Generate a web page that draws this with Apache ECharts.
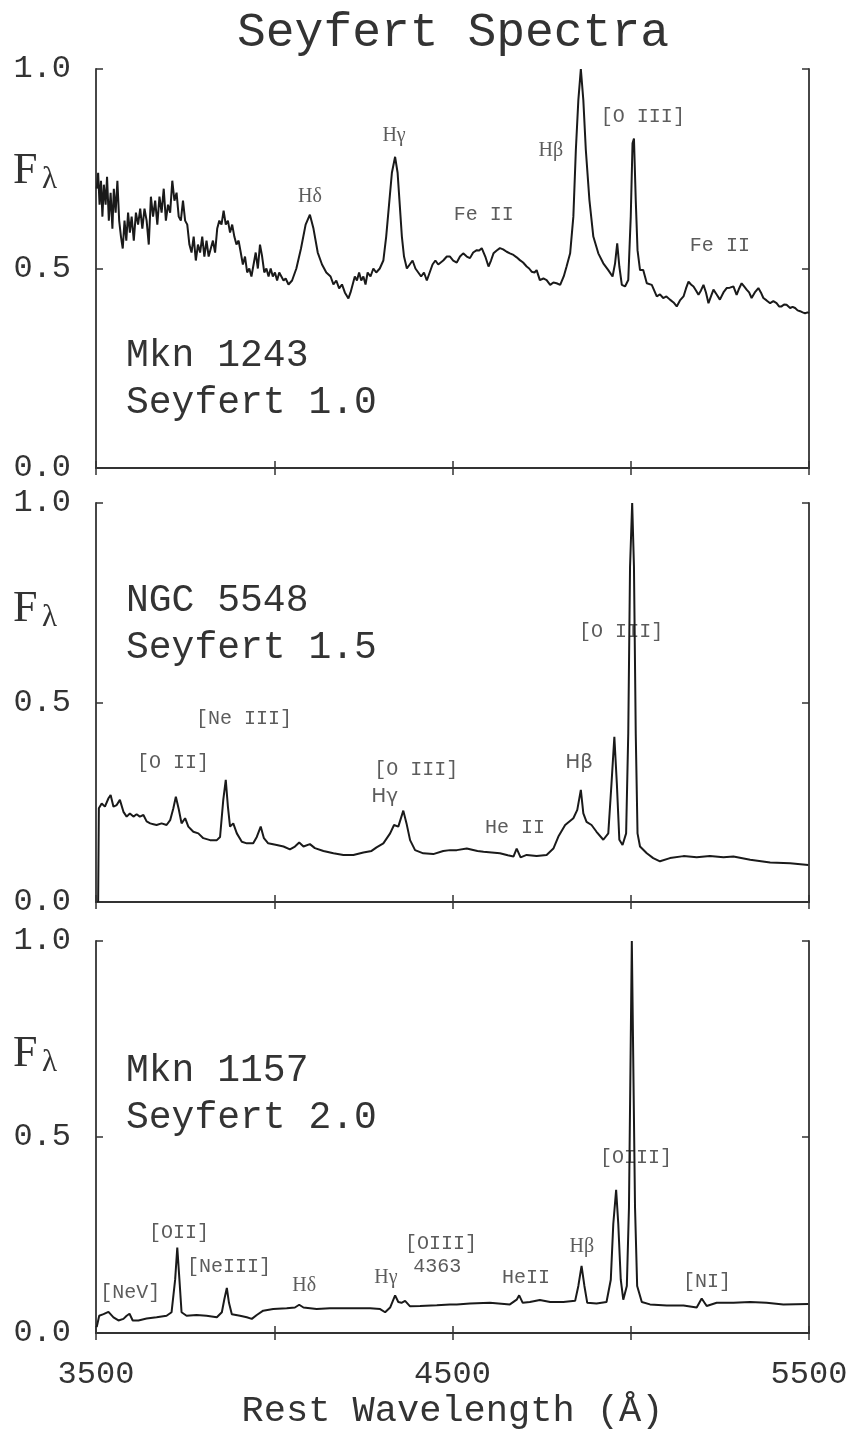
<!DOCTYPE html>
<html>
<head>
<meta charset="utf-8">
<title>Seyfert Spectra</title>
<script src="https://cdn.jsdelivr.net/npm/echarts@6/dist/echarts.min.js"></script>
<style>
  html, body { margin: 0; padding: 0; background: #fff; }
  #chart { width: 851px; height: 1431px; }
</style>
</head>
<body>
<div id="chart"></div>
<script>
// Mkn 1243, Seyfert 1.0 (normalised to H-beta)
const wave1 = [3502, 3506, 3510, 3514, 3518, 3522, 3527, 3531, 3536, 3541, 3546, 3550, 3555, 3560, 3565, 3570, 3575, 3580, 3585, 3590,
  3595, 3600, 3606, 3612, 3618, 3624, 3630, 3636, 3642, 3648, 3654, 3660, 3666, 3672, 3678, 3684, 3690, 3696, 3702, 3708,
  3714, 3720, 3726, 3732, 3738, 3744, 3750, 3756, 3762, 3768, 3774, 3780, 3786, 3792, 3798, 3804, 3810, 3816, 3822, 3828,
  3834, 3840, 3846, 3852, 3858, 3864, 3870, 3876, 3882, 3888, 3894, 3900, 3906, 3912, 3918, 3924, 3930, 3936, 3942, 3948,
  3954, 3960, 3966, 3972, 3978, 3984, 3990, 3996, 4002, 4008, 4014, 4020, 4026, 4032, 4040, 4050, 4062, 4075, 4088, 4100,
  4110, 4122, 4134, 4146, 4158, 4166, 4174, 4182, 4190, 4198, 4208, 4214, 4220, 4226, 4232, 4238, 4244, 4250, 4256, 4262,
  4270, 4278, 4286, 4296, 4306, 4314, 4322, 4330, 4339, 4346, 4352, 4358, 4364, 4372, 4380, 4388, 4396, 4404, 4412, 4420,
  4428, 4436, 4444, 4452, 4460, 4474, 4484, 4493, 4502, 4512, 4521, 4530, 4540, 4549, 4558, 4568, 4575, 4582, 4592, 4601,
  4608, 4615, 4624, 4633, 4642, 4652, 4661, 4671, 4680, 4689, 4698, 4708, 4715, 4722, 4730, 4736, 4745, 4755, 4764, 4774,
  4783, 4792, 4802, 4812, 4820, 4830, 4839, 4846, 4853, 4860, 4867, 4874, 4884, 4895, 4909, 4923, 4937, 4949, 4956, 4962,
  4968, 4975, 4984, 4993, 5000, 5005, 5009, 5014, 5019, 5026, 5035, 5045, 5059, 5073, 5082, 5091, 5100, 5110, 5120, 5129,
  5138, 5148, 5155, 5162, 5169, 5176, 5183, 5190, 5197, 5204, 5211, 5218, 5225, 5232, 5241, 5250, 5260, 5269, 5278, 5288,
  5297, 5304, 5311, 5318, 5325, 5332, 5339, 5348, 5358, 5365, 5372, 5381, 5391, 5400, 5409, 5416, 5423, 5430, 5437, 5447,
  5454, 5461, 5468, 5475, 5482, 5489, 5496, 5500]
const flux1 = [0.70, 0.74, 0.66, 0.72, 0.63, 0.71, 0.66, 0.73, 0.62, 0.69, 0.60, 0.70, 0.64, 0.72, 0.62, 0.58, 0.55, 0.62, 0.57, 0.64,
  0.59, 0.63, 0.57, 0.64, 0.61, 0.65, 0.60, 0.65, 0.62, 0.56, 0.68, 0.63, 0.67, 0.61, 0.68, 0.64, 0.70, 0.62, 0.66, 0.64,
  0.72, 0.67, 0.69, 0.63, 0.62, 0.67, 0.62, 0.61, 0.56, 0.54, 0.58, 0.52, 0.56, 0.54, 0.58, 0.53, 0.57, 0.53, 0.55, 0.57,
  0.54, 0.60, 0.62, 0.61, 0.645, 0.61, 0.62, 0.59, 0.61, 0.58, 0.56, 0.57, 0.54, 0.51, 0.53, 0.49, 0.50, 0.48, 0.51, 0.54,
  0.50, 0.56, 0.53, 0.49, 0.50, 0.48, 0.50, 0.48, 0.49, 0.47, 0.49, 0.48, 0.47, 0.475, 0.46, 0.47, 0.50, 0.55, 0.61, 0.635,
  0.60, 0.54, 0.51, 0.49, 0.48, 0.46, 0.47, 0.45, 0.46, 0.44, 0.425, 0.44, 0.46, 0.48, 0.47, 0.49, 0.47, 0.48, 0.46, 0.49,
  0.48, 0.50, 0.49, 0.50, 0.52, 0.58, 0.66, 0.74, 0.78, 0.74, 0.66, 0.58, 0.53, 0.50, 0.51, 0.52, 0.50, 0.49, 0.48, 0.49,
  0.47, 0.49, 0.51, 0.52, 0.51, 0.52, 0.53, 0.53, 0.52, 0.515, 0.53, 0.538, 0.53, 0.526, 0.54, 0.546, 0.545, 0.551, 0.53, 0.505,
  0.52, 0.538, 0.545, 0.551, 0.548, 0.542, 0.538, 0.534, 0.528, 0.521, 0.515, 0.505, 0.50, 0.492, 0.49, 0.496, 0.471, 0.475, 0.471, 0.459,
  0.465, 0.463, 0.459, 0.48, 0.505, 0.538, 0.63, 0.797, 0.922, 1.0, 0.922, 0.797, 0.672, 0.58, 0.538, 0.513, 0.496, 0.48, 0.513, 0.563,
  0.505, 0.459, 0.455, 0.471, 0.63, 0.814, 0.826, 0.672, 0.546, 0.496, 0.496, 0.463, 0.459, 0.43, 0.435, 0.426, 0.43, 0.422, 0.415, 0.405,
  0.42, 0.43, 0.45, 0.467, 0.46, 0.455, 0.445, 0.434, 0.445, 0.459, 0.44, 0.413, 0.43, 0.447, 0.435, 0.422, 0.44, 0.451, 0.452, 0.455,
  0.434, 0.45, 0.463, 0.455, 0.447, 0.44, 0.426, 0.44, 0.451, 0.44, 0.426, 0.42, 0.413, 0.418, 0.413, 0.405, 0.405, 0.41, 0.409, 0.401,
  0.404, 0.401, 0.395, 0.393, 0.39, 0.388, 0.39, 0.388]

// NGC 5548, Seyfert 1.5 (normalised to [O III] 5007)
const wave2 = [3506, 3508, 3516, 3525, 3535, 3541, 3549, 3558, 3567, 3577, 3586, 3595, 3605, 3614, 3623, 3633, 3642, 3652, 3661, 3670,
  3684, 3698, 3708, 3717, 3724, 3732, 3740, 3750, 3759, 3773, 3787, 3801, 3820, 3839, 3848, 3857, 3864, 3870, 3876, 3885,
  3895, 3909, 3923, 3941, 3951, 3962, 3971, 3983, 4007, 4026, 4044, 4058, 4070, 4082, 4100, 4114, 4138, 4166, 4194, 4222,
  4250, 4273, 4287, 4306, 4325, 4336, 4348, 4362, 4371, 4381, 4395, 4418, 4446, 4474, 4493, 4512, 4540, 4570, 4587, 4610,
  4633, 4655, 4671, 4680, 4691, 4708, 4736, 4764, 4783, 4797, 4816, 4839, 4850, 4860, 4867, 4876, 4890, 4904, 4923, 4937,
  4946, 4954, 4961, 4968, 4977, 4987, 4993, 4998, 5004, 5009, 5014, 5019, 5026, 5045, 5063, 5082, 5110, 5148, 5185, 5222,
  5260, 5288, 5335, 5391, 5447, 5498]
const flux2 = [0.0, 0.235, 0.247, 0.239, 0.260, 0.268, 0.239, 0.243, 0.256, 0.226, 0.214, 0.222, 0.214, 0.220, 0.214, 0.218, 0.202, 0.197, 0.195, 0.193,
  0.197, 0.193, 0.205, 0.235, 0.264, 0.233, 0.197, 0.210, 0.189, 0.176, 0.172, 0.160, 0.155, 0.155, 0.163, 0.256, 0.306, 0.239, 0.189, 0.197,
  0.172, 0.151, 0.147, 0.147, 0.163, 0.189, 0.160, 0.147, 0.143, 0.139, 0.132, 0.139, 0.149, 0.139, 0.145, 0.135, 0.128, 0.122, 0.118, 0.118,
  0.124, 0.128, 0.137, 0.147, 0.172, 0.193, 0.189, 0.229, 0.197, 0.155, 0.130, 0.122, 0.120, 0.128, 0.130, 0.130, 0.134, 0.128, 0.126, 0.124,
  0.122, 0.117, 0.114, 0.134, 0.112, 0.118, 0.115, 0.118, 0.134, 0.164, 0.193, 0.210, 0.231, 0.281, 0.222, 0.201, 0.193, 0.176, 0.156, 0.172,
  0.297, 0.414, 0.297, 0.156, 0.143, 0.172, 0.423, 0.840, 1.0, 0.840, 0.423, 0.172, 0.139, 0.122, 0.110, 0.102, 0.110, 0.115, 0.112, 0.115,
  0.112, 0.114, 0.106, 0.099, 0.097, 0.093]

// Mkn 1157, Seyfert 2.0 (normalised to [O III] 5007)
const wave3 = [3502, 3509, 3521, 3535, 3549, 3563, 3577, 3586, 3594, 3603, 3619, 3642, 3670, 3698, 3712, 3722, 3728, 3734, 3740, 3754,
  3782, 3810, 3839, 3853, 3860, 3867, 3873, 3881, 3904, 3923, 3937, 3951, 3969, 3997, 4035, 4058, 4070, 4082, 4119, 4156,
  4194, 4231, 4269, 4297, 4311, 4325, 4339, 4348, 4357, 4367, 4381, 4409, 4456, 4493, 4512, 4549, 4605, 4661, 4680, 4687,
  4697, 4717, 4745, 4774, 4811, 4844, 4853, 4862, 4870, 4878, 4904, 4932, 4944, 4951, 4959, 4965, 4972, 4979, 4989, 4995,
  5003, 5012, 5018, 5031, 5054, 5101, 5148, 5185, 5199, 5213, 5241, 5288, 5335, 5381, 5428, 5498]
const flux3 = [0.015, 0.044, 0.048, 0.054, 0.040, 0.032, 0.036, 0.044, 0.049, 0.032, 0.032, 0.037, 0.040, 0.044, 0.053, 0.136, 0.218, 0.136, 0.053, 0.044,
  0.046, 0.044, 0.040, 0.053, 0.086, 0.115, 0.077, 0.048, 0.044, 0.040, 0.036, 0.046, 0.057, 0.061, 0.063, 0.065, 0.072, 0.065, 0.061, 0.063,
  0.063, 0.063, 0.063, 0.061, 0.053, 0.065, 0.096, 0.079, 0.077, 0.082, 0.068, 0.069, 0.071, 0.073, 0.073, 0.075, 0.077, 0.073, 0.085, 0.096,
  0.077, 0.079, 0.084, 0.079, 0.079, 0.082, 0.120, 0.171, 0.120, 0.077, 0.075, 0.079, 0.136, 0.278, 0.365, 0.278, 0.136, 0.085, 0.120, 0.320,
  1.0, 0.320, 0.120, 0.079, 0.073, 0.070, 0.070, 0.065, 0.088, 0.069, 0.077, 0.077, 0.079, 0.077, 0.073, 0.074]

// emission line labels: [text, wavelength, flux]
const lines1 = [['Hδ', 4100, 0.68], ['Hγ', 4336, 0.832], ['Fe II', 4588, 0.636], ['Hβ', 4776, 0.794], ['[O III]', 5034, 0.88], ['Fe II', 5250, 0.558]]
const lines2 = [['[O II]', 3716, 0.348], ['[Ne III]', 3915, 0.459], ['[O III]', 4398, 0.331], ['Hγ', 4310, 0.263], ['He II', 4675, 0.185], ['Hβ', 4855, 0.348], ['[O III]', 4973, 0.677]]
const lines3 = [['[NeV]', 3596, 0.102], ['[OII]', 3733, 0.257], ['[NeIII]', 3873, 0.17], ['Hδ', 4084, 0.12], ['Hγ', 4313, 0.14], ['[OIII]', 4468, 0.228], ['4363', 4457, 0.17],
  ['HeII', 4706, 0.14], ['Hβ', 4863, 0.22], ['[OIII]', 5015, 0.448], ['[NI]', 5214, 0.132]]

const objectNames = ['Mkn 1243', 'NGC 5548', 'Mkn 1157']
const seyfertTypes = ['Seyfert 1.0', 'Seyfert 1.5', 'Seyfert 2.0']
const xTicks = [3500, 4000, 4500, 5000, 5500]
const xTickLabels = ['3500', '', '4500', '', '5500']

const MONO = '"Liberation Mono", "DejaVu Sans Mono", monospace'
const SERIF = '"Liberation Serif", "DejaVu Serif", serif'
const SANS = '"DejaVu Sans", "Liberation Sans", sans-serif'
const INK = '#1a1a1a'
const TEXT = '#333'

const panels = [
  { wave: wave1, flux: flux1, lines: lines1, top: 69, height: 399, greek: SERIF, nameY: 358, fY: 171 },
  { wave: wave2, flux: flux2, lines: lines2, top: 503, height: 399, greek: SANS, nameY: 603, fY: 609 },
  { wave: wave3, flux: flux3, lines: lines3, top: 941, height: 400, greek: SERIF, nameY: 1073, fY: 1054 },
]

const frameLine = { show: true, lineStyle: { color: '#333', width: 1.8 } }
const innerTick = { show: true, inside: true, length: 7, lineStyle: { color: '#333', width: 1.5 } }

const grid = []
const xAxis = []
const yAxis = []
const series = []
const graphic = []

panels.forEach((p, i) => {
  const last = i === panels.length - 1
  grid.push({ left: 96, right: 42, top: p.top, height: p.height })

  xAxis.push({
    type: 'value', gridIndex: i, min: 3500, max: 5500, interval: 500, position: 'bottom',
    axisLine: frameLine, axisTick: innerTick, splitLine: { show: false },
    axisLabel: {
      show: last, margin: 26, fontFamily: MONO, fontSize: 32, color: TEXT,
      formatter: v => xTickLabels[xTicks.indexOf(v)] || '',
    },
    name: last ? 'Rest Wavelength (Å)' : '',
    nameLocation: 'middle', nameGap: 60,
    nameTextStyle: { fontFamily: MONO, fontSize: 37, color: TEXT },
  })
  xAxis.push({
    type: 'value', gridIndex: i, min: 3500, max: 5500, interval: 500, position: 'top',
    axisLine: frameLine, axisTick: innerTick, axisLabel: { show: false }, splitLine: { show: false },
  })
  yAxis.push({
    type: 'value', gridIndex: i, min: 0, max: 1, interval: 0.5, position: 'left',
    axisLine: frameLine, axisTick: innerTick, splitLine: { show: false },
    axisLabel: { margin: 25, fontFamily: MONO, fontSize: 32, color: TEXT, formatter: v => v.toFixed(1) },
  })
  yAxis.push({
    type: 'value', gridIndex: i, min: 0, max: 1, interval: 0.5, position: 'right',
    axisLine: frameLine, axisTick: innerTick, axisLabel: { show: false }, splitLine: { show: false },
  })

  series.push({
    type: 'line', xAxisIndex: 2 * i, yAxisIndex: 2 * i,
    data: p.wave.map((w, k) => [w, p.flux[k]]),
    showSymbol: false, clip: true, silent: true,
    lineStyle: { color: INK, width: 2 },
  })

  series.push({
    type: 'scatter', xAxisIndex: 2 * i, yAxisIndex: 2 * i, silent: true,
    symbolSize: 1, itemStyle: { color: 'rgba(0,0,0,0)' },
    data: p.lines.map(([text, w, f]) => ({
      value: [w, f], name: text,
      label: { fontFamily: /^H[βγδ]$/.test(text) ? p.greek : MONO },
    })),
    label: {
      show: true, position: 'inside', formatter: d => d.name,
      fontSize: 20, color: TEXT,
    },
  })

  graphic.push({
    type: 'text', left: 126, top: p.nameY - 21,
    style: { text: objectNames[i], fontFamily: MONO, fontSize: 38, fill: TEXT },
  })
  graphic.push({
    type: 'text', left: 126, top: p.nameY + 26,
    style: { text: seyfertTypes[i], fontFamily: MONO, fontSize: 38, fill: TEXT },
  })
  graphic.push({
    type: 'text', x: 13, y: p.fY,
    style: { text: 'F', fontFamily: SERIF, fontSize: 44, fill: TEXT, verticalAlign: 'middle' },
  })
  graphic.push({
    type: 'text', x: 42, y: p.fY + 9,
    style: { text: 'λ', fontFamily: SERIF, fontSize: 31, fill: TEXT, verticalAlign: 'middle' },
  })
})

const chart = echarts.init(document.getElementById('chart'))
chart.setOption({
  animation: false,
  backgroundColor: '#fff',
  title: {
    text: 'Seyfert Spectra', left: 448, top: 4, textAlign: 'center',
    textStyle: { fontFamily: MONO, fontSize: 48, fontWeight: 'normal', color: TEXT },
  },
  grid, xAxis, yAxis, series, graphic,
})
</script>
</body>
</html>
